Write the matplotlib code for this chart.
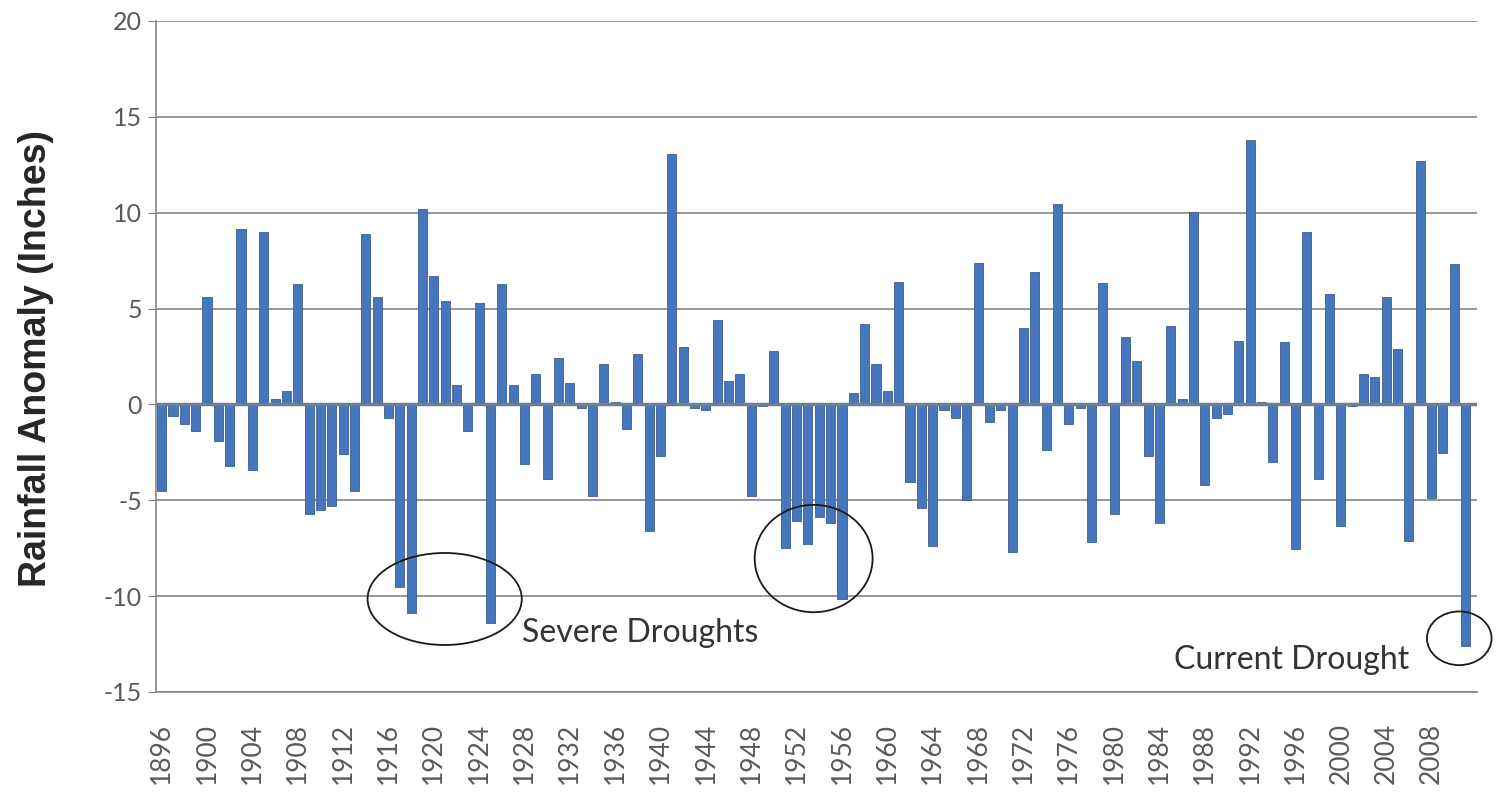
import matplotlib.pyplot as plt
from matplotlib.patches import Ellipse
import numpy as np

plt.rcParams['axes.unicode_minus'] = False

# yearly rainfall anomaly (inches)
years = np.arange(1896, 2012)
anomaly = [-4.5, -0.6, -1.0, -1.4, 5.6, -1.9, -3.2, 9.15, -3.4, 9.0,
           0.3, 0.7, 6.3, -5.7, -5.5, -5.3, -2.6, -4.5, 8.9, 5.6,
           -0.7, -9.5, -10.9, 10.2, 6.7, 5.4, 1.0, -1.4, 5.3, -11.4,
           6.3, 1.0, -3.1, 1.6, -3.9, 2.4, 1.1, -0.2, -4.8, 2.1,
           0.1, -1.3, 2.65, -6.6, -2.7, 13.05, 3.0, -0.2, -0.3, 4.4,
           1.2, 1.6, -4.8, -0.1, 2.8, -7.5, -6.1, -7.3, -5.85, -6.2,
           -10.15, 0.6, 4.2, 2.1, 0.7, 6.4, -4.05, -5.4, -7.4, -0.3,
           -0.7, -5.0, 7.4, -0.9, -0.3, -7.7, 4.0, 6.9, -2.4, 10.45,
           -1.0, -0.2, -7.2, 6.35, -5.7, 3.5, 2.25, -2.7, -6.2, 4.1,
           0.3, 10.05, -4.2, -0.7, -0.5, 3.3, 13.8, 0.1, -3.0, 3.25,
           -7.55, 9.0, -3.9, 5.75, -6.35, -0.1, 1.6, 1.45, 5.6, 2.9,
           -7.15, 12.7, -4.9, -2.55, 7.3, -12.6]
tick_years = np.arange(1896, 2012, 4)
y_ticks = [-15, -10, -5, 0, 5, 10, 15, 20]

fig = plt.figure(figsize=(14.97, 7.95), dpi=100)
ax = fig.add_axes([0.1042, 0.1296, 0.8824, 0.844])

ax.bar(years, anomaly, width=0.8, color='#4677be', edgecolor='#3d5f8a', linewidth=0.6, zorder=3)
ax.axhline(0, color='#6f7f90', lw=2.5, zorder=4)

ax.set_xlim(1895.5, 2012.0)
ax.set_ylim(-15, 20)
ax.set_yticks(y_ticks)
ax.set_yticklabels([str(v) for v in y_ticks], fontsize=18, family='Lato', color='#595959')
ax.set_xticks(tick_years)
ax.set_xticklabels([str(y) for y in tick_years], rotation=90, fontsize=19, family='Lato', color='#595959')
ax.tick_params(axis='y', length=6, color='#868686', pad=4)
ax.tick_params(axis='x', length=0, pad=22)
ax.grid(axis='y', color='#868686', lw=1.2, zorder=0)

for s in ['top', 'right']:
    ax.spines[s].set_visible(False)
ax.spines['left'].set_color('#868686')
ax.spines['bottom'].set_color('#868686')
ax.spines['left'].set_linewidth(1.2)
ax.spines['bottom'].set_linewidth(1.2)

ax.set_ylabel('Rainfall Anomaly (Inches)', fontsize=27, family='Liberation Sans', fontweight='bold',
              color='#262626')
ax.yaxis.set_label_coords(-0.077, 0.497)

# drought circles
for cx, cy, w, h in [(1920.96, -10.15, 13.6, 4.8), (1953.5, -8.04, 10.4, 5.6), (2010.44, -12.2, 5.7, 2.8)]:
    ax.add_patch(Ellipse((cx, cy), w, h, fill=False, edgecolor='#1a1a1a', lw=1.3, zorder=5, clip_on=False))

ax.text(1927.75, -11.94, 'Severe Droughts', fontsize=23, family='Lato', color='#333333', va='center', ha='left')
ax.text(1985.3, -13.35, 'Current Drought', fontsize=23, family='Lato', color='#333333', va='center', ha='left')

plt.savefig('out.png')
